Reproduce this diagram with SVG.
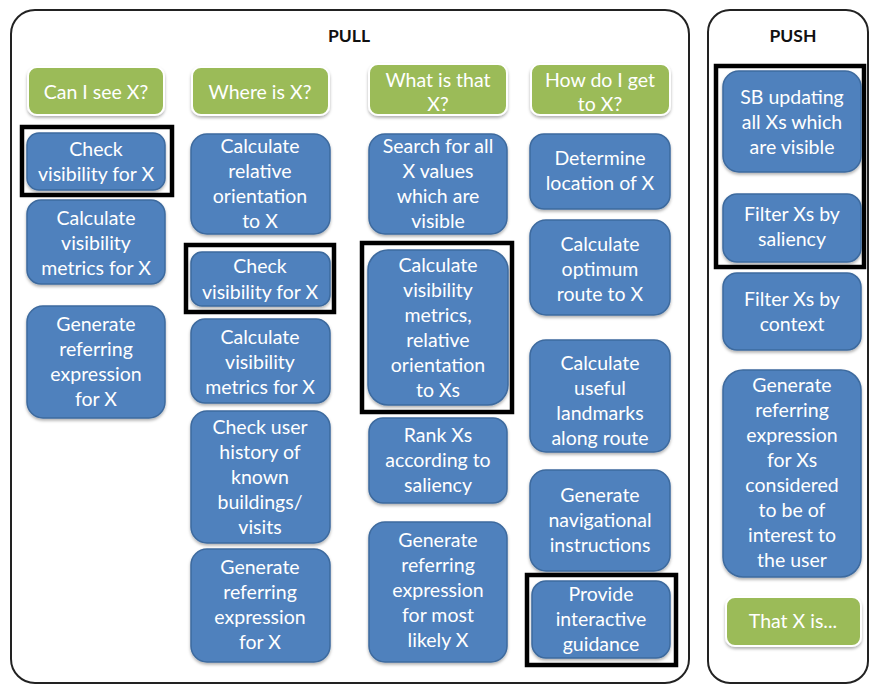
<svg xmlns="http://www.w3.org/2000/svg" width="871" height="684" viewBox="0 0 871 684">
<defs>
<filter id="sh" x="-10%" y="-10%" width="120%" height="130%"><feDropShadow dx="0" dy="2" stdDeviation="1.5" flood-color="#000" flood-opacity="0.3"/></filter>
</defs>
<style>
.panel{fill:#fff;stroke:#222;stroke-width:2}
.title{font-family:Lato,"Liberation Sans",sans-serif;font-weight:bold;font-size:17.5px;fill:#111;text-anchor:middle}
.b{fill:#4f81bd;stroke:#3d6a9e;stroke-width:1.5;filter:url(#sh)}
.g{fill:#9bbb59;stroke:#ffffff;stroke-width:2;filter:url(#sh)}
.hl{fill:none;stroke:#000;stroke-width:4.5}
text.t{font-family:Lato,"Open Sans","Liberation Sans",sans-serif;font-size:19.5px;fill:#fff;text-anchor:middle}
</style>
<rect class="panel" x="11" y="10" width="678" height="673" rx="24"/>
<rect class="panel" x="708" y="10" width="160" height="673" rx="22"/>
<text class="title" x="349" y="42">PULL</text>
<text class="title" x="793" y="42">PUSH</text>

<g id="c1-head"><rect class="g" x="28" y="67" width="136" height="48" rx="9"/><text class="t" x="96" y="99">Can I see X?</text></g>
<g id="c1-n1"><rect class="hl" x="22" y="127" width="150" height="68"/><rect class="b" x="27" y="133" width="138" height="57" rx="12"/><text class="t" x="96" y="156">Check</text><text class="t" x="96" y="181">visibility for X</text></g>
<g id="c1-n2"><rect class="b" x="27" y="200" width="138" height="84" rx="14"/><text class="t" x="96" y="225">Calculate</text><text class="t" x="96" y="250">visibility</text><text class="t" x="96" y="275">metrics for X</text></g>
<g id="c1-n3"><rect class="b" x="27" y="306" width="138" height="112" rx="16"/><text class="t" x="96" y="331">Generate</text><text class="t" x="96" y="356">referring</text><text class="t" x="96" y="381">expression</text><text class="t" x="96" y="406">for X</text></g>

<g id="c2-head"><rect class="g" x="192" y="67" width="137" height="48" rx="9"/><text class="t" x="260" y="99">Where is X?</text></g>
<g id="c2-n1"><rect class="b" x="191" y="134" width="139" height="100" rx="16"/><text class="t" x="260" y="153">Calculate</text><text class="t" x="260" y="178">relative</text><text class="t" x="260" y="203">orientation</text><text class="t" x="260" y="228">to X</text></g>
<g id="c2-n2"><rect class="hl" x="186" y="245" width="148" height="67"/><rect class="b" x="191" y="252" width="139" height="54" rx="11"/><text class="t" x="260" y="273">Check</text><text class="t" x="260" y="299">visibility for X</text></g>
<g id="c2-n3"><rect class="b" x="191" y="319" width="139" height="84" rx="14"/><text class="t" x="260" y="344">Calculate</text><text class="t" x="260" y="369">visibility</text><text class="t" x="260" y="394">metrics for X</text></g>
<g id="c2-n4"><rect class="b" x="191" y="411" width="139" height="132" rx="16"/><text class="t" x="260" y="434">Check user</text><text class="t" x="260" y="459">history of</text><text class="t" x="260" y="484">known</text><text class="t" x="260" y="509">buildings/</text><text class="t" x="260" y="534">visits</text></g>
<g id="c2-n5"><rect class="b" x="191" y="549" width="139" height="113" rx="16"/><text class="t" x="260" y="574">Generate</text><text class="t" x="260" y="599">referring</text><text class="t" x="260" y="624">expression</text><text class="t" x="260" y="649">for X</text></g>

<g id="c3-head"><rect class="g" x="369" y="64" width="138" height="51" rx="9"/><text class="t" x="438" y="87">What is that</text><text class="t" x="438" y="111">X?</text></g>
<g id="c3-n1"><rect class="b" x="369" y="134" width="138" height="100" rx="16"/><text class="t" x="438" y="153">Search for all</text><text class="t" x="438" y="178">X values</text><text class="t" x="438" y="203">which are</text><text class="t" x="438" y="228">visible</text></g>
<g id="c3-n2"><rect class="hl" x="362" y="243" width="150" height="169"/><rect class="b" x="368" y="250" width="140" height="155" rx="20"/><text class="t" x="438" y="272">Calculate</text><text class="t" x="438" y="297">visibility</text><text class="t" x="438" y="322">metrics,</text><text class="t" x="438" y="347">relative</text><text class="t" x="438" y="372">orientation</text><text class="t" x="438" y="397">to Xs</text></g>
<g id="c3-n3"><rect class="b" x="369" y="418" width="138" height="85" rx="14"/><text class="t" x="438" y="442">Rank Xs</text><text class="t" x="438" y="467">according to</text><text class="t" x="438" y="492">saliency</text></g>
<g id="c3-n4"><rect class="b" x="369" y="522" width="138" height="140" rx="16"/><text class="t" x="438" y="547">Generate</text><text class="t" x="438" y="572">referring</text><text class="t" x="438" y="597">expression</text><text class="t" x="438" y="622">for most</text><text class="t" x="438" y="647">likely X</text></g>

<g id="c4-head"><rect class="g" x="531" y="64" width="139" height="51" rx="9"/><text class="t" x="600" y="87">How do I get</text><text class="t" x="600" y="111">to X?</text></g>
<g id="c4-n1"><rect class="b" x="530" y="134" width="140" height="75" rx="14"/><text class="t" x="600" y="165">Determine</text><text class="t" x="600" y="190">location of X</text></g>
<g id="c4-n2"><rect class="b" x="530" y="220" width="140" height="95" rx="16"/><text class="t" x="600" y="251">Calculate</text><text class="t" x="600" y="276">optimum</text><text class="t" x="600" y="301">route to X</text></g>
<g id="c4-n3"><rect class="b" x="530" y="340" width="140" height="112" rx="16"/><text class="t" x="600" y="370">Calculate</text><text class="t" x="600" y="395">useful</text><text class="t" x="600" y="420">landmarks</text><text class="t" x="600" y="445">along route</text></g>
<g id="c4-n4"><rect class="b" x="530" y="470" width="140" height="101" rx="16"/><text class="t" x="600" y="502">Generate</text><text class="t" x="600" y="527">navigational</text><text class="t" x="600" y="552">instructions</text></g>
<g id="c4-n5"><rect class="hl" x="527" y="575" width="149" height="90"/><rect class="b" x="532" y="581" width="138" height="77" rx="14"/><text class="t" x="601" y="601">Provide</text><text class="t" x="601" y="626">interactive</text><text class="t" x="601" y="651">guidance</text></g>

<g id="push-hl"><rect class="hl" x="716" y="66" width="148" height="201"/></g>
<g id="p-n1"><rect class="b" x="723" y="71" width="138" height="101" rx="16"/><text class="t" x="792" y="104">SB updating</text><text class="t" x="792" y="129">all Xs which</text><text class="t" x="792" y="154">are visible</text></g>
<g id="p-n2"><rect class="b" x="723" y="194" width="138" height="68" rx="14"/><text class="t" x="792" y="221">Filter Xs by</text><text class="t" x="792" y="246">saliency</text></g>
<g id="p-n3"><rect class="b" x="723" y="273" width="138" height="77" rx="14"/><text class="t" x="792" y="306">Filter Xs by</text><text class="t" x="792" y="331">context</text></g>
<g id="p-n4"><rect class="b" x="723" y="370" width="138" height="207" rx="20"/><text class="t" x="792" y="392">Generate</text><text class="t" x="792" y="417">referring</text><text class="t" x="792" y="442">expression</text><text class="t" x="792" y="467">for Xs</text><text class="t" x="792" y="492">considered</text><text class="t" x="792" y="517">to be of</text><text class="t" x="792" y="542">interest to</text><text class="t" x="792" y="567">the user</text></g>
<g id="p-head"><rect class="g" x="726" y="597" width="135" height="49" rx="9"/><text class="t" x="793" y="628">That X is...</text></g>
<g id="connectors"></g>
</svg>
